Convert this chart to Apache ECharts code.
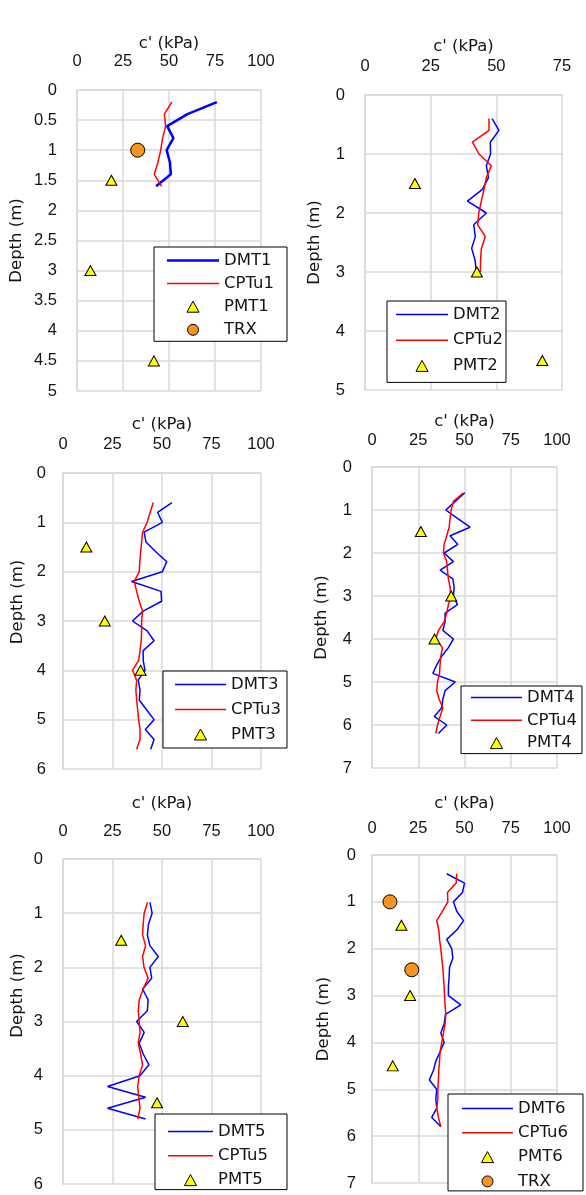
<!DOCTYPE html>
<html><head><meta charset="utf-8">
<script src="https://cdn.jsdelivr.net/npm/echarts@6/dist/echarts.min.js"></script>
<style>html,body{margin:0;padding:0;background:#fff}#c{width:586px;height:1195px}</style>
</head><body><div id="c"></div>
<script>
// ---------- DATA ----------
const xTicks100 = [0, 25, 50, 75, 100];
const xTicks75 = [0, 25, 50, 75];

// Panel 1
const dmt1Depth = [0.2, 0.4, 0.6, 0.8, 1.0, 1.2, 1.4, 1.6];
const dmt1C = [76, 60, 49, 52.4, 48.7, 50.5, 51, 43];
const cptu1Depth = [0.2, 0.4, 0.6, 0.8, 1.0, 1.2, 1.4, 1.6];
const cptu1C = [51.5, 47.5, 48.2, 46.5, 45.5, 44, 42, 46];
const pmt1Depth = [1.5, 3.0, 4.5];
const pmt1C = [18.7, 7.3, 41.8];
const trx1Depth = [1.0];
const trx1C = [33];

// Panel 2
const dmt2Depth = [0.4, 0.6, 0.8, 1.0, 1.2, 1.4, 1.6, 1.8, 2.0, 2.2, 2.4, 2.6, 2.8, 3.0];
const dmt2C = [48.4, 51, 47.7, 47.8, 46.2, 47, 44.7, 39, 46.2, 41.4, 42, 40.6, 41.9, 42.4];
const cptu2Depth = [0.4, 0.6, 0.8, 1.0, 1.2, 1.4, 1.6, 1.8, 2.0, 2.2, 2.4, 2.6, 2.8, 3.0];
const cptu2C = [47.2, 47.2, 40.9, 43.4, 48.1, 46.2, 45.3, 44.3, 43.3, 42.9, 45.8, 44.3, 44, 43.9];
const pmt2Depth = [1.5, 3.0, 4.5];
const pmt2C = [19, 42.6, 67.5];

// Panel 3
const dmt3Depth = [0.6, 0.8, 1.0, 1.2, 1.4, 1.6, 1.8, 2.0, 2.2, 2.4, 2.6, 2.8, 3.0, 3.2, 3.4, 3.6, 3.8, 4.0, 4.2, 4.4, 4.6, 4.8, 5.0, 5.2, 5.4, 5.6];
const dmt3C = [55, 47.8, 50.2, 41, 41.9, 47, 52.4, 50.2, 34.6, 49.5, 49.8, 40.5, 35.1, 42.5, 46, 40.5, 40.5, 41.4, 38, 38.9, 38.5, 42.2, 46, 41.6, 46, 44.3];
const cptu3Depth = [0.6, 0.8, 1.0, 1.2, 1.4, 1.6, 1.8, 2.0, 2.2, 2.4, 2.6, 2.8, 3.0, 3.2, 3.4, 3.6, 3.8, 4.0, 4.2, 4.4, 4.6, 4.8, 5.0, 5.2, 5.4, 5.6];
const cptu3C = [45.6, 44, 42.5, 40.2, 39.7, 39.2, 38.8, 38.5, 36, 37.2, 38.5, 40.2, 39.7, 39.7, 39.5, 38.9, 38.2, 35.1, 37.2, 36.8, 37.2, 37.7, 38.2, 38.9, 38.9, 37.2];
const pmt3Depth = [1.5, 3.0, 4.0];
const pmt3C = [11.8, 21.1, 39.2];

// Panel 4
const dmt4Depth = [0.6, 0.8, 1.0, 1.2, 1.4, 1.6, 1.8, 2.0, 2.2, 2.4, 2.6, 2.8, 3.0, 3.2, 3.4, 3.6, 3.8, 4.0, 4.2, 4.4, 4.6, 4.8, 5.0, 5.2, 5.4, 5.6, 5.8, 6.0, 6.2];
const dmt4C = [50.2, 45, 39.9, 46.4, 53, 42.2, 46.4, 39, 44, 36.8, 43.7, 44.4, 44, 46.2, 39.5, 39.5, 38.3, 44, 41.3, 37.7, 35, 32.9, 45, 39.5, 38.3, 37.7, 33.6, 40.4, 35.9];
const cptu4Depth = [0.6, 0.8, 1.0, 1.2, 1.4, 1.6, 1.8, 2.0, 2.2, 2.4, 2.6, 2.8, 3.0, 3.2, 3.4, 3.6, 3.8, 4.0, 4.2, 4.4, 4.6, 4.8, 5.0, 5.2, 5.4, 5.6, 5.8, 6.0, 6.2];
const cptu4C = [49.5, 44, 42.8, 42.2, 41.7, 40.4, 39, 38.6, 40.4, 40.8, 41.3, 42.2, 42.6, 41.3, 40.4, 39, 35.9, 34.5, 38.1, 37.2, 36.8, 36.5, 35.4, 35, 36.3, 38.3, 36.8, 35.4, 34.5];
const pmt4Depth = [1.5, 3.0, 4.0];
const pmt4C = [26.4, 42.8, 33.8];

// Panel 5
const dmt5Depth = [0.8, 1.0, 1.2, 1.4, 1.6, 1.8, 2.0, 2.2, 2.4, 2.6, 2.8, 3.0, 3.2, 3.4, 3.6, 3.8, 4.0, 4.2, 4.4, 4.6, 4.8];
const dmt5C = [43.9, 45, 43.2, 42.6, 43.9, 48.1, 43.9, 44.8, 40.2, 43, 42.6, 37.2, 41, 38.5, 40.5, 43.4, 38.9, 22.5, 41.7, 22.5, 41.7];
const cptu5Depth = [0.8, 1.0, 1.2, 1.4, 1.6, 1.8, 2.0, 2.2, 2.4, 2.6, 2.8, 3.0, 3.2, 3.4, 3.6, 3.8, 4.0, 4.2, 4.4, 4.6, 4.8];
const cptu5C = [42.7, 41, 40.5, 40.2, 41.7, 40.2, 40.9, 43, 40.5, 38.5, 38, 38.5, 38.9, 38, 39.2, 40.2, 38.5, 37.7, 38.3, 38.9, 37.8];
const pmt5Depth = [1.5, 3.0, 4.5];
const pmt5C = [29.4, 60.5, 47.5];

// Panel 6
const dmt6Depth = [0.4, 0.6, 0.8, 1.0, 1.2, 1.4, 1.6, 1.8, 2.0, 2.2, 2.4, 2.6, 2.8, 3.0, 3.2, 3.4, 3.6, 3.8, 4.0, 4.2, 4.4, 4.6, 4.8, 5.0, 5.2, 5.4, 5.6, 5.8];
const dmt6C = [40.4, 50, 48.9, 44, 45.8, 49.5, 45.8, 40.4, 43.1, 43.7, 41.9, 41.7, 41.3, 41.3, 48, 39.7, 39, 37.2, 39, 36.8, 34.5, 33.2, 31, 35, 34.5, 35, 32.3, 37.2];
const cptu6Depth = [0.4, 0.6, 0.8, 1.0, 1.2, 1.4, 1.6, 1.8, 2.0, 2.2, 2.4, 2.6, 2.8, 3.0, 3.2, 3.4, 3.6, 3.8, 4.0, 4.2, 4.4, 4.6, 4.8, 5.0, 5.2, 5.4, 5.6, 5.8];
const cptu6C = [45.8, 45.5, 40.8, 41, 38.1, 35, 36.1, 36.5, 37.2, 37.7, 38.3, 38.6, 39, 39.2, 39.5, 39.9, 39.5, 38.6, 37.7, 36.8, 36.5, 36.1, 35.9, 35.6, 35.6, 35, 35.9, 37.2];
const pmt6Depth = [1.5, 3.0, 4.5];
const pmt6C = [15.9, 20.6, 11.2];
const trx6Depth = [1.0, 2.45];
const trx6C = [9.7, 21.5];

// ---------- STYLE / LAYOUT ----------
const BLUE = '#0000FF', RED = '#FF0000', YELLOW = '#FFFF00', ORANGE = '#F7931E';
const GRIDC = '#D9D9D9', TXT = '#141414';
const NUMFONT = 'Liberation Sans', TXTFONT = 'DejaVu Sans';
const TRI_ICON = 'path://M5.5,0L11,10L0,10Z';

const panels = [
  { grid: {left: 77, top: 90, width: 184, height: 301}, xTicks: xTicks100, yMax: 5, yInt: 0.5,
    xNameGap: 34, xLabMargin: 20, yNameGap: 52, yLabMargin: 20, yNameShift: 0,
    legend: {left: 154, top: 247, padding: [5, 13, 3, 13], itemGap: 6.1, itemWidth: 52},
    series: [
      {name: 'DMT1', kind: 'line', x: dmt1C, y: dmt1Depth, color: BLUE, width: 2.5},
      {name: 'CPTu1', kind: 'line', x: cptu1C, y: cptu1Depth, color: RED, width: 1.5},
      {name: 'PMT1', kind: 'tri', x: pmt1C, y: pmt1Depth},
      {name: 'TRX', kind: 'circ', x: trx1C, y: trx1Depth}
    ]},
  { grid: {left: 365, top: 95, width: 197, height: 295}, xTicks: xTicks75, yMax: 5, yInt: 1,
    xNameGap: 40, xLabMargin: 20, yNameGap: 42, yLabMargin: 20, yNameShift: 0,
    legend: {left: 387, top: 301, padding: [5, 3, 8, 9], itemGap: 8.7, itemWidth: 52},
    series: [
      {name: 'DMT2', kind: 'line', x: dmt2C, y: dmt2Depth, color: BLUE, width: 1.5},
      {name: 'CPTu2', kind: 'line', x: cptu2C, y: cptu2Depth, color: RED, width: 1.5},
      {name: 'PMT2', kind: 'tri', x: pmt2C, y: pmt2Depth}
    ]},
  { grid: {left: 63, top: 473, width: 198, height: 296}, xTicks: xTicks100, yMax: 6, yInt: 1,
    xNameGap: 40, xLabMargin: 20, yNameGap: 37, yLabMargin: 17, yNameShift: 19,
    legend: {left: 163, top: 671, padding: [5, 6, 5, 12], itemGap: 8, itemWidth: 51},
    series: [
      {name: 'DMT3', kind: 'line', x: dmt3C, y: dmt3Depth, color: BLUE, width: 1.5},
      {name: 'CPTu3', kind: 'line', x: cptu3C, y: cptu3Depth, color: RED, width: 1.5},
      {name: 'PMT3', kind: 'tri', x: pmt3C, y: pmt3Depth}
    ]},
  { grid: {left: 372, top: 467, width: 185, height: 301}, xTicks: xTicks100, yMax: 7, yInt: 1,
    xNameGap: 32, xLabMargin: 18.5, yNameGap: 42, yLabMargin: 20, yNameShift: 0,
    legend: {left: 461, top: 686, padding: [3, 5, 2, 10], itemGap: 5.8, itemWidth: 51},
    series: [
      {name: 'DMT4', kind: 'line', x: dmt4C, y: dmt4Depth, color: BLUE, width: 1.5},
      {name: 'CPTu4', kind: 'line', x: cptu4C, y: cptu4Depth, color: RED, width: 1.5},
      {name: 'PMT4', kind: 'tri', x: pmt4C, y: pmt4Depth}
    ]},
  { grid: {left: 63, top: 859, width: 198, height: 325}, xTicks: xTicks100, yMax: 6, yInt: 1,
    xNameGap: 47, xLabMargin: 19, yNameGap: 37, yLabMargin: 20, yNameShift: 26,
    legend: {left: 155, top: 1114, padding: [9, 19, 1, 13], itemGap: 7.3, itemWidth: 45},
    series: [
      {name: 'DMT5', kind: 'line', x: dmt5C, y: dmt5Depth, color: BLUE, width: 1.5},
      {name: 'CPTu5', kind: 'line', x: cptu5C, y: cptu5Depth, color: RED, width: 1.5},
      {name: 'PMT5', kind: 'tri', x: pmt5C, y: pmt5Depth}
    ]},
  { grid: {left: 372, top: 855, width: 185, height: 328}, xTicks: xTicks100, yMax: 7, yInt: 1,
    xNameGap: 43, xLabMargin: 18.5, yNameGap: 40, yLabMargin: 16, yNameShift: 0,
    legend: {left: 448, top: 1094, padding: [6, 15, 1, 14], itemGap: 7.3, itemWidth: 51},
    series: [
      {name: 'DMT6', kind: 'line', x: dmt6C, y: dmt6Depth, color: BLUE, width: 1.5},
      {name: 'CPTu6', kind: 'line', x: cptu6C, y: cptu6Depth, color: RED, width: 1.5},
      {name: 'PMT6', kind: 'tri', x: pmt6C, y: pmt6Depth},
      {name: 'TRX', kind: 'circ', x: trx6C, y: trx6Depth}
    ]}
];

const zip = (xs, ys) => xs.map((v, i) => [v, ys[i]]);

const option = {
  backgroundColor: '#fff',
  animation: false,
  grid: [], xAxis: [], yAxis: [], legend: [], series: []
};

function legendItem(s, iw) {
  if (s.kind === 'line') {
    return {name: s.name, icon: 'path://M0,0H' + iw + 'V' + s.width + 'H0Z',
      itemStyle: {color: s.color, borderWidth: 0}};
  }
  if (s.kind === 'tri') {
    return {name: s.name, icon: TRI_ICON,
      itemStyle: {color: YELLOW, borderColor: '#000', borderWidth: 1}};
  }
  return {name: s.name, icon: 'circle',
    itemStyle: {color: ORANGE, borderColor: '#000', borderWidth: 1}};
}

panels.forEach((p, i) => {
  option.grid.push(Object.assign({containLabel: false}, p.grid));
  const xt = p.xTicks;
  option.xAxis.push({
    type: 'value', gridIndex: i, position: 'top',
    min: xt[0], max: xt[xt.length - 1], interval: xt[1] - xt[0],
    name: "c' (kPa)", nameLocation: 'middle', nameGap: p.xNameGap,
    nameTextStyle: {fontFamily: TXTFONT, fontSize: 16.5, color: TXT},
    axisLine: {show: true, lineStyle: {color: GRIDC, width: 1.5}},
    axisTick: {show: false},
    axisLabel: {margin: p.xLabMargin, fontFamily: NUMFONT, fontSize: 16.5, color: TXT},
    splitLine: {show: true, lineStyle: {color: GRIDC, width: 1.5}}
  });
  option.yAxis.push({
    type: 'value', gridIndex: i, inverse: true,
    min: 0, max: p.yMax, interval: p.yInt,
    name: 'Depth (m)', nameLocation: 'middle', nameGap: p.yNameGap,
    nameTextStyle: {fontFamily: TXTFONT, fontSize: 16.5, color: TXT,
      padding: [0, 0, 0, 2 * p.yNameShift]},
    axisLine: {show: true, lineStyle: {color: GRIDC, width: 1.5}},
    axisTick: {show: false},
    axisLabel: {margin: p.yLabMargin, fontFamily: NUMFONT, fontSize: 16.5, color: TXT},
    splitLine: {show: true, lineStyle: {color: GRIDC, width: 1.5}}
  });
  const iw = p.legend.itemWidth;
  option.legend.push(Object.assign({
    orient: 'vertical', itemHeight: 11, symbolKeepAspect: true,
    backgroundColor: '#fff', borderColor: '#000', borderWidth: 1, borderRadius: 0,
    selectedMode: false,
    textStyle: {fontFamily: TXTFONT, fontSize: 16.5, color: TXT, lineHeight: 16},
    data: p.series.map(s => legendItem(s, iw))
  }, p.legend));
  p.series.forEach(s => {
    const base = {name: s.name, xAxisIndex: i, yAxisIndex: i, data: zip(s.x, s.y)};
    if (s.kind === 'line') {
      option.series.push(Object.assign(base, {
        type: 'line', symbol: 'none', showSymbol: false, z: 3,
        lineStyle: {color: s.color, width: s.width},
        itemStyle: {color: s.color}
      }));
    } else if (s.kind === 'tri') {
      option.series.push(Object.assign(base, {
        type: 'scatter', symbol: 'triangle', symbolSize: [11, 10], z: 4,
        itemStyle: {color: YELLOW, borderColor: '#000', borderWidth: 1, opacity: 1}
      }));
    } else {
      option.series.push(Object.assign(base, {
        type: 'scatter', symbol: 'circle', symbolSize: 14, z: 4,
        itemStyle: {color: ORANGE, borderColor: '#000', borderWidth: 1, opacity: 1}
      }));
    }
  });
});

const chart = echarts.init(document.getElementById('c'), null, {renderer: 'canvas'});
chart.setOption(option);
</script>
</body></html>
